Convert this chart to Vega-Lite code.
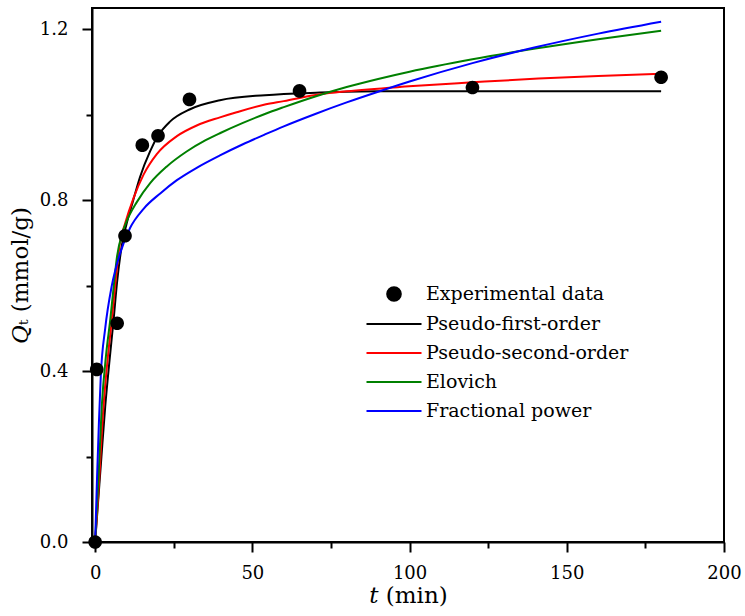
{
  "$schema": "https://vega.github.io/schema/vega-lite/v6.json",
  "width": 632,
  "height": 534,
  "autosize": {"type": "none"},
  "padding": {"left": 92, "top": 8, "right": 21, "bottom": 74},
  "background": "white",
  "config": {
    "font": "DejaVu Serif",
    "view": {"stroke": "black", "strokeWidth": 2},
    "axis": {
      "domainColor": "black", "domainWidth": 2, "tickColor": "black", "tickWidth": 2,
      "labelFont": "DejaVu Serif", "labelFontSize": 18, "labelColor": "black",
      "titleFont": "DejaVu Serif", "titleFontSize": 23, "titleColor": "black", "titleFontWeight": "normal",
      "grid": false, "labelOverlap": false, "labelBound": false, "labelFlush": false
    }
  },
  "datasets": {
    "exp": [
      {"series": "Experimental data", "t": 0, "q": 0},
      {"series": "Experimental data", "t": 0.5, "q": 0.404},
      {"series": "Experimental data", "t": 7, "q": 0.512},
      {"series": "Experimental data", "t": 9.5, "q": 0.717},
      {"series": "Experimental data", "t": 15, "q": 0.929},
      {"series": "Experimental data", "t": 20, "q": 0.951},
      {"series": "Experimental data", "t": 30, "q": 1.036},
      {"series": "Experimental data", "t": 65, "q": 1.056},
      {"series": "Experimental data", "t": 120, "q": 1.064},
      {"series": "Experimental data", "t": 180, "q": 1.088}
    ],
    "fit": [
      {"series": "Pseudo-first-order", "t": 0, "q": 0},
      {"series": "Pseudo-first-order", "t": 1, "q": 0.1},
      {"series": "Pseudo-first-order", "t": 2, "q": 0.2},
      {"series": "Pseudo-first-order", "t": 3.2, "q": 0.317},
      {"series": "Pseudo-first-order", "t": 4.5, "q": 0.42},
      {"series": "Pseudo-first-order", "t": 5.8, "q": 0.515},
      {"series": "Pseudo-first-order", "t": 7, "q": 0.61},
      {"series": "Pseudo-first-order", "t": 8.5, "q": 0.695},
      {"series": "Pseudo-first-order", "t": 10, "q": 0.745},
      {"series": "Pseudo-first-order", "t": 12, "q": 0.797},
      {"series": "Pseudo-first-order", "t": 14.3, "q": 0.855},
      {"series": "Pseudo-first-order", "t": 17.5, "q": 0.915},
      {"series": "Pseudo-first-order", "t": 20.1, "q": 0.952},
      {"series": "Pseudo-first-order", "t": 23.8, "q": 0.984},
      {"series": "Pseudo-first-order", "t": 30.2, "q": 1.013},
      {"series": "Pseudo-first-order", "t": 39.7, "q": 1.034},
      {"series": "Pseudo-first-order", "t": 54, "q": 1.046},
      {"series": "Pseudo-first-order", "t": 71.5, "q": 1.052},
      {"series": "Pseudo-first-order", "t": 90, "q": 1.055},
      {"series": "Pseudo-first-order", "t": 120, "q": 1.055},
      {"series": "Pseudo-first-order", "t": 150, "q": 1.055},
      {"series": "Pseudo-first-order", "t": 180, "q": 1.055},

      {"series": "Pseudo-second-order", "t": 0, "q": 0},
      {"series": "Pseudo-second-order", "t": 1, "q": 0.11},
      {"series": "Pseudo-second-order", "t": 2.65, "q": 0.317},
      {"series": "Pseudo-second-order", "t": 4, "q": 0.43},
      {"series": "Pseudo-second-order", "t": 5.3, "q": 0.52},
      {"series": "Pseudo-second-order", "t": 6.5, "q": 0.61},
      {"series": "Pseudo-second-order", "t": 7.9, "q": 0.70},
      {"series": "Pseudo-second-order", "t": 9.5, "q": 0.745},
      {"series": "Pseudo-second-order", "t": 12.2, "q": 0.805},
      {"series": "Pseudo-second-order", "t": 15.4, "q": 0.86},
      {"series": "Pseudo-second-order", "t": 19.6, "q": 0.908},
      {"series": "Pseudo-second-order", "t": 26, "q": 0.95},
      {"series": "Pseudo-second-order", "t": 32.3, "q": 0.975},
      {"series": "Pseudo-second-order", "t": 39.7, "q": 0.994},
      {"series": "Pseudo-second-order", "t": 45, "q": 1.006},
      {"series": "Pseudo-second-order", "t": 54, "q": 1.024},
      {"series": "Pseudo-second-order", "t": 60, "q": 1.032},
      {"series": "Pseudo-second-order", "t": 71.5, "q": 1.048},
      {"series": "Pseudo-second-order", "t": 80, "q": 1.055},
      {"series": "Pseudo-second-order", "t": 98.5, "q": 1.066},
      {"series": "Pseudo-second-order", "t": 120, "q": 1.076},
      {"series": "Pseudo-second-order", "t": 141, "q": 1.085},
      {"series": "Pseudo-second-order", "t": 160, "q": 1.091},
      {"series": "Pseudo-second-order", "t": 180, "q": 1.096},

      {"series": "Elovich", "t": 0, "q": 0},
      {"series": "Elovich", "t": 1, "q": 0.14},
      {"series": "Elovich", "t": 2.1, "q": 0.317},
      {"series": "Elovich", "t": 3.5, "q": 0.44},
      {"series": "Elovich", "t": 4.8, "q": 0.52},
      {"series": "Elovich", "t": 6, "q": 0.605},
      {"series": "Elovich", "t": 6.9, "q": 0.665},
      {"series": "Elovich", "t": 8.5, "q": 0.72},
      {"series": "Elovich", "t": 10.1, "q": 0.752},
      {"series": "Elovich", "t": 13.2, "q": 0.795},
      {"series": "Elovich", "t": 17.5, "q": 0.84},
      {"series": "Elovich", "t": 22.8, "q": 0.879},
      {"series": "Elovich", "t": 29.1, "q": 0.914},
      {"series": "Elovich", "t": 35, "q": 0.94},
      {"series": "Elovich", "t": 40, "q": 0.958},
      {"series": "Elovich", "t": 47, "q": 0.981},
      {"series": "Elovich", "t": 54, "q": 1.002},
      {"series": "Elovich", "t": 60, "q": 1.018},
      {"series": "Elovich", "t": 70, "q": 1.043},
      {"series": "Elovich", "t": 80, "q": 1.065},
      {"series": "Elovich", "t": 90, "q": 1.084},
      {"series": "Elovich", "t": 100, "q": 1.101},
      {"series": "Elovich", "t": 120, "q": 1.13},
      {"series": "Elovich", "t": 140, "q": 1.155},
      {"series": "Elovich", "t": 160, "q": 1.177},
      {"series": "Elovich", "t": 180, "q": 1.197},

      {"series": "Fractional power", "t": 0, "q": 0},
      {"series": "Fractional power", "t": 0.6, "q": 0.15},
      {"series": "Fractional power", "t": 1.2, "q": 0.28},
      {"series": "Fractional power", "t": 1.8, "q": 0.39},
      {"series": "Fractional power", "t": 3.2, "q": 0.5},
      {"series": "Fractional power", "t": 5.3, "q": 0.6},
      {"series": "Fractional power", "t": 7.9, "q": 0.675},
      {"series": "Fractional power", "t": 11.1, "q": 0.735},
      {"series": "Fractional power", "t": 15.4, "q": 0.78},
      {"series": "Fractional power", "t": 20.7, "q": 0.816},
      {"series": "Fractional power", "t": 26, "q": 0.847},
      {"series": "Fractional power", "t": 32.3, "q": 0.876},
      {"series": "Fractional power", "t": 39.7, "q": 0.905},
      {"series": "Fractional power", "t": 47, "q": 0.931},
      {"series": "Fractional power", "t": 54, "q": 0.954},
      {"series": "Fractional power", "t": 60, "q": 0.973},
      {"series": "Fractional power", "t": 70, "q": 1.002},
      {"series": "Fractional power", "t": 80, "q": 1.029},
      {"series": "Fractional power", "t": 90, "q": 1.054},
      {"series": "Fractional power", "t": 100, "q": 1.078},
      {"series": "Fractional power", "t": 120, "q": 1.121},
      {"series": "Fractional power", "t": 140, "q": 1.158},
      {"series": "Fractional power", "t": 160, "q": 1.19},
      {"series": "Fractional power", "t": 180, "q": 1.218}
    ]
  },
  "encoding": {
    "x": {
      "field": "t", "type": "quantitative",
      "scale": {"domain": [-1, 200], "nice": false, "zero": false},
      "axis": {
        "values": [0, 25, 50, 75, 100, 125, 150, 175, 200],
        "labelExpr": "datum.value % 50 === 0 ? datum.label : ''",
        "tickSize": {"condition": {"test": "datum.value % 50 === 0", "value": 10}, "value": 6},
        "labelFont": "DejaVu Serif",
        "labelPadding": 12,
        "title": "𝑡 (min)",
        "titleFont": "DejaVu Serif",
        "titlePadding": 2
      }
    },
    "y": {
      "field": "q", "type": "quantitative",
      "scale": {"domain": [0, 1.25], "nice": false, "zero": false},
      "axis": {
        "values": [0, 0.2, 0.4, 0.6, 0.8, 1.0, 1.2],
        "format": ".1f",
        "labelExpr": "round(datum.value * 10) % 4 === 0 ? datum.label : ''",
        "tickSize": {"condition": {"test": "round(datum.value * 10) % 4 === 0", "value": 10}, "value": 6},
        "labelFont": "DejaVu Serif",
        "labelPadding": 14,
        "title": "𝑄ₜ (mmol/g)",
        "titleFont": "DejaVu Serif",
        "titlePadding": 7
      }
    }
  },
  "layer": [
    {
      "data": {"name": "fit"},
      "mark": {"type": "line", "strokeWidth": 2, "interpolate": "monotone"},
      "encoding": {
        "color": {
          "field": "series", "type": "nominal",
          "scale": {
            "domain": ["Experimental data", "Pseudo-first-order", "Pseudo-second-order", "Elovich", "Fractional power"],
            "range": ["#000000", "#000000", "#ff0000", "#008000", "#0000ff"]
          },
          "legend": {
            "orient": "none", "legendX": 290, "legendY": 274, "title": null,
            "labelFont": "DejaVu Serif", "labelFontSize": 19, "labelColor": "black",
            "symbolSize": 484, "symbolStrokeWidth": 2, "rowPadding": 7, "labelOffset": 20,
            "padding": 0, "labelLimit": 400,
            "encode": {"symbols": {"update": {
              "fill": {"scale": "color", "field": "value"},
              "stroke": {"scale": "color", "field": "value"},
              "strokeWidth": {"value": 2},
              "opacity": {"value": 1}
            }}}
          }
        }
      }
    },
    {
      "data": {"name": "exp"},
      "mark": {"type": "point", "filled": true, "opacity": 1, "size": 484},
      "encoding": {
        "color": {
          "field": "series", "type": "nominal",
          "scale": {
            "domain": ["Experimental data", "Pseudo-first-order", "Pseudo-second-order", "Elovich", "Fractional power"],
            "range": ["#000000", "#000000", "#ff0000", "#008000", "#0000ff"]
          }
        },
        "shape": {
          "field": "series", "type": "nominal",
          "scale": {
            "domain": ["Experimental data", "Pseudo-first-order", "Pseudo-second-order", "Elovich", "Fractional power"],
            "range": ["M-0.62,0A0.62,0.62,0,1,1,0.62,0A0.62,0.62,0,1,1,-0.62,0Z", "M-2.5,0H2.5", "M-2.5,0H2.5", "M-2.5,0H2.5", "M-2.5,0H2.5"]
          },
          "legend": {
            "orient": "none", "legendX": 290, "legendY": 274, "title": null,
            "labelFont": "DejaVu Serif", "labelFontSize": 19, "labelColor": "black",
            "symbolSize": 484, "symbolStrokeWidth": 2, "rowPadding": 7, "labelOffset": 20,
            "padding": 0, "labelLimit": 400
          }
        }
      }
    }
  ]
}
